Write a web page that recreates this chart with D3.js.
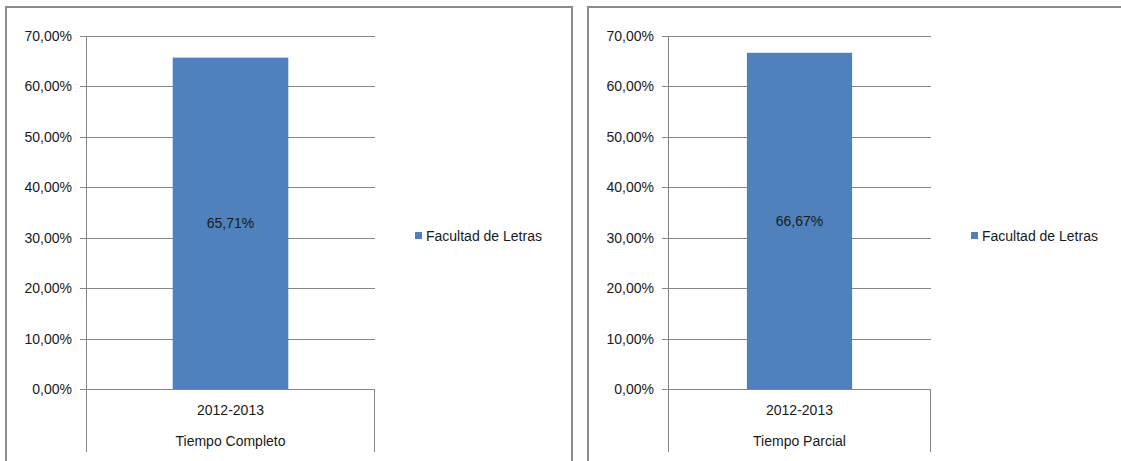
<!DOCTYPE html>
<html><head><meta charset="utf-8">
<script src="https://cdn.jsdelivr.net/npm/d3@7"></script>
<style>
html,body{margin:0;padding:0;background:#fff;}
svg{display:block;}
text{font-family:"Liberation Sans",Arial,sans-serif;fill:#1a1a1a;}
</style></head>
<body>
<svg id="c" width="1121" height="461"></svg>
<script>
const categories = ["2012-2013"];
const panelTitles = ["Tiempo Completo", "Tiempo Parcial"];
const seriesName = "Facultad de Letras";
const valuesCompleto = [0.6571];
const valuesParcial = [0.6667];
const yTicks = [0, 0.1, 0.2, 0.3, 0.4, 0.5, 0.6, 0.7];

const svg = d3.select("#c");
const fmt = v => d3.format(".2f")(v * 100).replace(".", ",") + "%";
const color = "#4f81bd";
const gridColor = "#868686";
const fs = "14px";

const panels = [
  {values: valuesCompleto, title: panelTitles[0], box: [6, 7, 566, 470], plot: [86, 375], legendX: 415},
  {values: valuesParcial, title: panelTitles[1], box: [588, 7, 560, 470], plot: [668, 931], legendX: 971}
];

const y = d3.scaleLinear().domain([0, 0.7]).range([389, 36]);

panels.forEach(p => {
  const g = svg.append("g");
  g.append("rect").attr("x", p.box[0]).attr("y", p.box[1])
    .attr("width", p.box[2]).attr("height", p.box[3])
    .attr("fill", "#fff").attr("stroke", "#8c8c8c").attr("stroke-width", 2);

  const x = d3.scaleBand().domain(categories).range(p.plot).paddingInner(0).paddingOuter(0.75);

  g.append("g").selectAll("line").data(yTicks).join("line")
    .attr("x1", p.plot[0] - 6).attr("x2", p.plot[1])
    .attr("y1", d => Math.round(y(d)) + 0.5).attr("y2", d => Math.round(y(d)) + 0.5)
    .attr("stroke", gridColor).attr("stroke-width", 1);

  g.append("line").attr("x1", p.plot[0] + 0.5).attr("x2", p.plot[0] + 0.5)
    .attr("y1", y(0.7)).attr("y2", 452).attr("stroke", gridColor);
  g.append("line").attr("x1", p.plot[1] - 0.5).attr("x2", p.plot[1] - 0.5)
    .attr("y1", y(0)).attr("y2", 452).attr("stroke", gridColor);

  g.append("g").selectAll("text").data(yTicks).join("text")
    .attr("x", p.plot[0] - 14).attr("y", d => y(d)).attr("dy", "0.36em")
    .attr("text-anchor", "end").style("font-size", fs).text(fmt);

  g.append("g").selectAll("rect").data(p.values).join("rect")
    .attr("x", (d, i) => x(categories[i])).attr("width", x.bandwidth())
    .attr("y", d => y(d)).attr("height", d => y(0) - y(d))
    .attr("fill", color);

  g.append("g").selectAll("text").data(p.values).join("text")
    .attr("x", (d, i) => x(categories[i]) + x.bandwidth() / 2)
    .attr("y", d => y(d / 2)).attr("dy", "0.36em")
    .attr("text-anchor", "middle").style("font-size", fs).text(fmt);

  g.append("g").selectAll("text").data(categories).join("text")
    .attr("x", d => x(d) + x.bandwidth() / 2).attr("y", 415)
    .attr("text-anchor", "middle").style("font-size", fs).text(d => d);
  g.append("text").attr("x", (p.plot[0] + p.plot[1]) / 2).attr("y", 446)
    .attr("text-anchor", "middle").style("font-size", fs).text(p.title);

  g.append("rect").attr("x", p.legendX).attr("y", 232).attr("width", 7).attr("height", 7).attr("fill", color);
  g.append("text").attr("x", p.legendX + 11).attr("y", 240.5).style("font-size", fs).text(seriesName);
});
</script>
</body></html>
